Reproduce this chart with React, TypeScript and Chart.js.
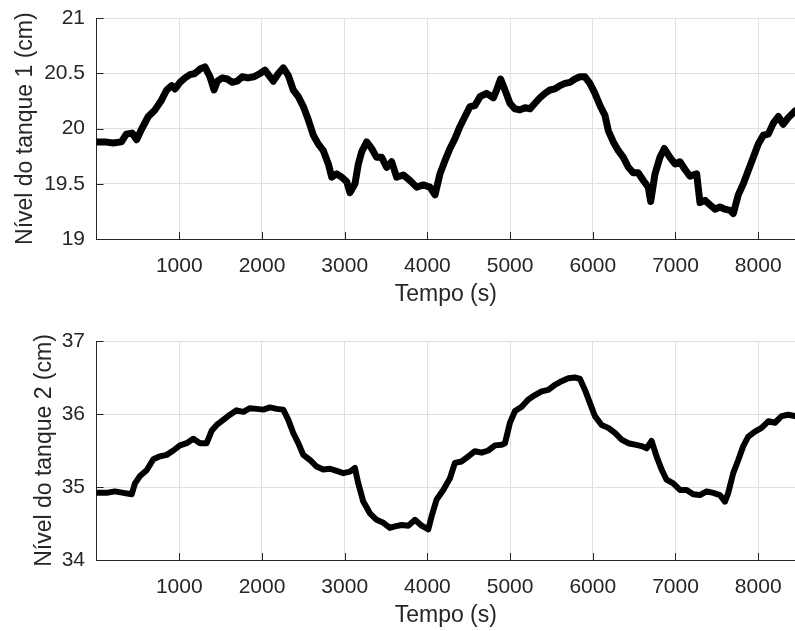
import React, { useEffect, useRef } from 'react';
import { Chart, registerables } from 'chart.js';

Chart.register(...registerables);

// ---- data ----
const TIME_1 = [
  0, 100, 200, 300, 360, 430, 484, 540, 625, 706, 786, 847, 907, 948, 1008, 1069, 1129, 1189, 1250, 1310,
  1371, 1420, 1460, 1520, 1580, 1640, 1700, 1760, 1830, 1900, 1976, 2036, 2097, 2137, 2198, 2258, 2319, 2379,
  2439, 2500, 2560, 2621, 2681, 2742, 2802, 2843, 2903, 2963, 3024, 3064, 3124, 3165, 3205, 3266, 3326, 3386,
  3447, 3507, 3568, 3628, 3709, 3789, 3870, 3950, 4031, 4092, 4152, 4212, 4273, 4333, 4394, 4454, 4515, 4575,
  4636, 4716, 4797, 4837, 4885, 4938, 4998, 5059, 5119, 5180, 5240, 5300, 5361, 5421, 5482, 5542, 5603, 5663,
  5724, 5784, 5845, 5905, 5965, 6026, 6087, 6147, 6188, 6248, 6309, 6369, 6430, 6490, 6550, 6611, 6671, 6700,
  6752, 6812, 6865, 6933, 6994, 7054, 7115, 7175, 7256, 7296, 7357, 7417, 7477, 7538, 7598, 7659, 7699, 7759,
  7820, 7880, 7941, 8001, 8062, 8122, 8183, 8243, 8303, 8364, 8445,
];
const LEVEL_1 = [
  19.88, 19.88, 19.87, 19.88, 19.95, 19.96, 19.9, 19.99, 20.11, 20.17, 20.26, 20.35, 20.39, 20.36, 20.42, 20.46, 20.49, 20.5, 20.54, 20.56,
  20.47, 20.35, 20.43, 20.46, 20.45, 20.42, 20.43, 20.47, 20.46, 20.47, 20.5, 20.53, 20.47, 20.43, 20.5, 20.55, 20.48, 20.35,
  20.29, 20.2, 20.08, 19.94, 19.86, 19.8, 19.68, 19.56, 19.59, 19.56, 19.52, 19.42, 19.5, 19.68, 19.79, 19.88, 19.82, 19.74,
  19.74, 19.65, 19.7, 19.56, 19.58, 19.53, 19.47, 19.49, 19.47, 19.4, 19.59, 19.71, 19.82, 19.91, 20.02, 20.11, 20.2, 20.21,
  20.29, 20.32, 20.28, 20.35, 20.45, 20.35, 20.23, 20.18, 20.17, 20.19, 20.18, 20.23, 20.28, 20.32, 20.35, 20.36, 20.39, 20.41,
  20.42, 20.45, 20.47, 20.47, 20.41, 20.32, 20.21, 20.12, 19.98, 19.88, 19.8, 19.74, 19.65, 19.6, 19.6, 19.53, 19.47, 19.34,
  19.59, 19.74, 19.82, 19.74, 19.68, 19.7, 19.63, 19.57, 19.59, 19.33, 19.35, 19.31, 19.27, 19.29, 19.27, 19.26, 19.23, 19.4,
  19.5, 19.62, 19.74, 19.86, 19.94, 19.95, 20.05, 20.11, 20.04, 20.1, 20.16,
];

const TIME_2 = [
  0, 121, 222, 323, 424, 464, 525, 605, 686, 766, 847, 928, 1008, 1089, 1169, 1250, 1331, 1391, 1452, 1532,
  1613, 1693, 1774, 1855, 1935, 2016, 2096, 2177, 2257, 2318, 2378, 2439, 2499, 2580, 2660, 2741, 2822, 2902,
  2983, 3064, 3124, 3164, 3225, 3305, 3386, 3467, 3547, 3608, 3689, 3769, 3850, 3930, 4011, 4051, 4112, 4192,
  4273, 4333, 4414, 4495, 4575, 4656, 4736, 4817, 4898, 4938, 4998, 5059, 5140, 5220, 5301, 5381, 5462, 5542,
  5623, 5704, 5784, 5845, 5905, 5966, 6026, 6107, 6187, 6268, 6348, 6429, 6510, 6590, 6651, 6711, 6771, 6832,
  6892, 6973, 7054, 7134, 7215, 7295, 7376, 7457, 7537, 7598, 7638, 7698, 7759, 7819, 7880, 7960, 8041, 8122,
  8202, 8283, 8363, 8445,
];
const LEVEL_2 = [
  34.92, 34.92, 34.94, 34.92, 34.9, 35.05, 35.15, 35.23, 35.38, 35.42, 35.44, 35.5, 35.57, 35.6, 35.66, 35.6, 35.6, 35.77, 35.85, 35.92,
  35.99, 36.05, 36.03, 36.08, 36.07, 36.06, 36.09, 36.07, 36.06, 35.92, 35.74, 35.6, 35.44, 35.37, 35.28, 35.24, 35.25, 35.22,
  35.19, 35.21, 35.26, 35.05, 34.8, 34.64, 34.55, 34.51, 34.44, 34.46, 34.48, 34.47, 34.55, 34.47, 34.42, 34.6, 34.83, 34.96,
  35.12, 35.33, 35.35, 35.42, 35.49, 35.47, 35.5, 35.57, 35.58, 35.6, 35.88, 36.04, 36.1, 36.2, 36.26, 36.31, 36.33, 36.4,
  36.45, 36.49, 36.5, 36.48, 36.33, 36.15, 35.97, 35.85, 35.81, 35.74, 35.65, 35.6, 35.58, 35.56, 35.53, 35.63, 35.42, 35.24,
  35.1, 35.05, 34.96, 34.96, 34.9, 34.89, 34.94, 34.92, 34.89, 34.8, 34.92, 35.19, 35.37, 35.56, 35.69, 35.76, 35.81, 35.9,
  35.88, 35.97, 35.99, 35.97,
];

const X_TICKS = [1000, 2000, 3000, 4000, 5000, 6000, 7000, 8000];
const Y_TICKS_1 = [19, 19.5, 20, 20.5, 21];
const Y_TICKS_2 = [34, 35, 36, 37];
const X_MAX = 8445;
const X_LABEL = 'Tempo (s)';
const Y_LABEL_1 = 'Nível do tanque 1 (cm)';
const Y_LABEL_2 = 'Nível do tanque 2 (cm)';

// ---- styles ----
const W = 795;
const FONT = '"Liberation Sans", Arial, Helvetica, sans-serif';
const TEXT = '#262626';
const AXIS = '#262626';
const GRID = '#e0e0e0';

const inwardTicks = {
  id: 'inwardTicks',
  beforeDatasetsDraw(chart: any) {
    const { ctx, chartArea, scales } = chart;
    ctx.save();
    ctx.strokeStyle = AXIS;
    ctx.lineWidth = 1;
    scales.x.ticks.forEach((t: any) => {
      const px = Math.round(scales.x.getPixelForValue(t.value)) + 0.5;
      ctx.beginPath();
      ctx.moveTo(px, chartArea.bottom);
      ctx.lineTo(px, chartArea.bottom - 7);
      ctx.stroke();
    });
    scales.y.ticks.forEach((t: any) => {
      const py = Math.round(scales.y.getPixelForValue(t.value)) + 0.5;
      ctx.beginPath();
      ctx.moveTo(chartArea.left, py);
      ctx.lineTo(chartArea.left + 7, py);
      ctx.stroke();
    });
    ctx.restore();
  },
};

type PanelProps = {
  times: number[];
  values: number[];
  yTicks: number[];
  yLabel: string;
  top: number;
  height: number;
  areaTop: number;
  areaBottom: number;
  yTitlePad: number;
  xTitlePad: number;
  lineWidth: number;
};

function Panel(p: PanelProps) {
  const ref = useRef<HTMLCanvasElement | null>(null);
  useEffect(() => {
    if (!ref.current) return;
    const data = p.times.map((t, i) => ({ x: t, y: p.values[i] }));
    const chart = new Chart(ref.current, {
      type: 'line',
      data: {
        datasets: [
          {
            data,
            borderColor: '#000000',
            borderWidth: p.lineWidth,
            pointRadius: 0,
            tension: 0,
            fill: false,
            borderJoinStyle: 'round',
            borderCapStyle: 'round',
          },
        ],
      },
      options: {
        responsive: false,
        animation: false,
        devicePixelRatio: 1,
        layout: { padding: { top: p.areaTop, left: 0, right: 0, bottom: 0 } },
        plugins: { legend: { display: false }, tooltip: { enabled: false } },
        scales: {
          x: {
            type: 'linear',
            min: 0,
            max: X_MAX,
            afterBuildTicks: (s: any) => {
              s.ticks = X_TICKS.map((v) => ({ value: v }));
            },
            afterFit: (s: any) => {
              s.height = p.height - p.areaBottom;
              s.paddingLeft = 0;
              s.paddingRight = 0;
            },
            grid: { color: GRID, lineWidth: 1, drawTicks: false },
            border: { display: true, color: AXIS, width: 1 },
            ticks: {
              color: TEXT,
              font: { family: FONT, size: 21 },
              padding: 14.5,
              maxRotation: 0,
              autoSkip: false,
              callback: (v: any) => String(v),
            },
            title: {
              display: true,
              text: X_LABEL,
              color: TEXT,
              font: { family: FONT, size: 23 },
              padding: { top: 0, bottom: p.xTitlePad },
            },
          },
          y: {
            type: 'linear',
            min: p.yTicks[0],
            max: p.yTicks[p.yTicks.length - 1],
            afterBuildTicks: (s: any) => {
              s.ticks = p.yTicks.map((v) => ({ value: v }));
            },
            afterFit: (s: any) => {
              s.width = 96.6;
              s.paddingTop = 0;
              s.paddingBottom = 0;
            },
            grid: { color: GRID, lineWidth: 1, drawTicks: false },
            border: { display: true, color: AXIS, width: 1 },
            ticks: {
              color: TEXT,
              font: { family: FONT, size: 21 },
              padding: 11.6,
              callback: (v: any) => String(v),
            },
            title: {
              display: true,
              text: p.yLabel,
              color: TEXT,
              font: { family: FONT, size: 23 },
              padding: { top: p.yTitlePad, bottom: 0 },
            },
          },
        },
      },
      plugins: [inwardTicks],
    } as any);
    return () => chart.destroy();
  }, []);
  return (
    <canvas
      ref={ref}
      width={W}
      height={p.height}
      style={{ position: 'absolute', left: 0, top: p.top, width: W, height: p.height, display: 'block' }}
    />
  );
}

export default function App() {
  return (
    <div style={{ position: 'fixed', left: 0, top: 0, width: W, height: 631, background: '#ffffff', overflow: 'hidden' }}>
      <Panel
        times={TIME_1}
        values={LEVEL_1}
        yTicks={Y_TICKS_1}
        yLabel={Y_LABEL_1}
        top={0}
        height={320}
        areaTop={18.3}
        areaBottom={239}
        yTitlePad={12.3}
        xTitlePad={11.9}
        lineWidth={7}
      />
      <Panel
        times={TIME_2}
        values={LEVEL_2}
        yTicks={Y_TICKS_2}
        yLabel={Y_LABEL_2}
        top={320}
        height={311}
        areaTop={21}
        areaBottom={240}
        yTitlePad={30.8}
        xTitlePad={1.9}
        lineWidth={6}
      />
    </div>
  );
}
